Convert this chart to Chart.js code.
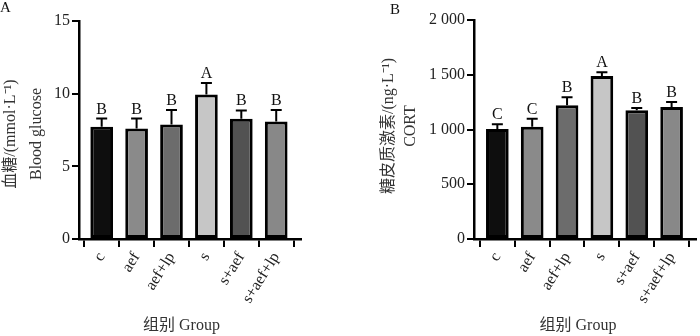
<!DOCTYPE html>
<html>
<head>
<meta charset="utf-8">
<script src="https://cdn.jsdelivr.net/npm/chart.js@4.4.0/dist/chart.umd.min.js"></script>
<style>
  html, body { margin: 0; padding: 0; background: #fff; }
  .wrap { position: absolute; top: 0; width: 350px; height: 336px; }
  #wa { left: 0; }
  #wb { left: 350px; }
</style>
</head>
<body>
<div class="wrap" id="wa"><canvas id="ca" width="350" height="336"></canvas></div>
<div class="wrap" id="wb"><canvas id="cb" width="350" height="336"></canvas></div>
<script>
// ---- data ----
const groups = ['c', 'aef', 'aef+lp', 's', 's+aef', 's+aef+lp'];

const glucoseMean = [7.72, 7.61, 7.88, 9.94, 8.27, 8.09];
const glucoseErr  = [0.57, 0.68, 0.99, 0.80, 0.58, 0.78];
const glucoseSig  = ['B', 'B', 'B', 'A', 'B', 'B'];
const glucoseTicks = ['0', '5', '10', '15'];

const cortMean = [1005, 1026, 1221, 1489, 1175, 1205];
const cortErr  = [42, 73, 73, 33, 21, 46];
const cortSig  = ['C', 'C', 'B', 'A', 'B', 'B'];
const cortTicks = ['0', '500', '1 000', '1 500', '2 000'];

// ---- style ----
const barColors = ['#0e0e0e', '#8a8a8a', '#6c6c6c', '#c6c6c6', '#525252', '#888888'];
const SERIF = '"Liberation Serif", "Noto Sans CJK SC", serif';

const overlay = {
  id: 'overlay',
  afterDatasetsDraw(chart, args, o) {
    const { ctx } = chart;
    const y = chart.scales.y;
    const meta = chart.getDatasetMeta(0);
    ctx.save();
    ctx.strokeStyle = '#000';
    ctx.lineWidth = 2;
    o.means.forEach((m, i) => {
      const cx = meta.data[i].x;
      const top = y.getPixelForValue(m);
      const et = y.getPixelForValue(m + o.errs[i]);
      ctx.beginPath();
      ctx.moveTo(cx, top);
      ctx.lineTo(cx, et);
      ctx.moveTo(cx - 5.5, et);
      ctx.lineTo(cx + 5.5, et);
      ctx.stroke();
      ctx.font = '16px ' + SERIF;
      ctx.fillStyle = '#111';
      ctx.textAlign = 'center';
      ctx.textBaseline = 'alphabetic';
      ctx.fillText(o.sig[i], cx, et - 5);
    });
    // panel letter
    ctx.font = '15px ' + SERIF;
    ctx.fillStyle = '#111';
    ctx.textAlign = 'left';
    ctx.textBaseline = 'top';
    ctx.fillText(o.panel, o.panelX, o.panelY);
    // x title
    ctx.font = '16px ' + SERIF;
    ctx.fillStyle = '#333';
    ctx.textAlign = 'center';
    ctx.textBaseline = 'middle';
    ctx.fillText(o.xTitle, o.xTitleX, 326);
    // y title (two lines, rotated)
    o.yTitle.forEach((t, k) => {
      ctx.save();
      ctx.translate(o.yTitleX[k], o.yTitleY);
      ctx.rotate(-Math.PI / 2);
      ctx.textAlign = 'center';
      ctx.textBaseline = 'middle';
      ctx.fillText(t, 0, 0);
      ctx.restore();
    });
    ctx.restore();
  }
};

function makeChart(id, means, errs, sig, tickLabels, yMax, yStep, geo) {
  return new Chart(document.getElementById(id), {
    type: 'bar',
    data: {
      datasets: [{
        data: means.map((v, i) => ({ x: i, y: v })),
        backgroundColor: barColors,
        borderColor: '#000',
        borderWidth: 3,
        borderSkipped: false,
        categoryPercentage: 1,
        barPercentage: 0.65
      }]
    },
    options: {
      responsive: false,
      animation: false,
      devicePixelRatio: 1,
      layout: { padding: { top: geo.top, right: geo.right, left: 0, bottom: 0 } },
      plugins: {
        legend: { display: false },
        tooltip: { enabled: false },
        overlay: {
          means: means, errs: errs, sig: sig,
          panel: geo.panel, panelX: geo.panelX, panelY: geo.panelY,
          xTitle: '组别 Group', xTitleX: geo.xTitleX,
          yTitle: geo.yTitle, yTitleX: geo.yTitleX, yTitleY: geo.yTitleY
        }
      },
      scales: {
        x: {
          type: 'linear',
          min: geo.xMin, max: geo.xMax,
          offset: false,
          afterBuildTicks: s => { s.ticks = groups.map((g, i) => ({ value: i })); },
          afterFit: s => { s.height = 336 - 239; },
          grid: { display: true, drawOnChartArea: false, drawTicks: true, tickLength: 8, color: '#000', lineWidth: 2 },
          border: { display: true, color: '#000', width: 2.5 },
          ticks: {
            autoSkip: false, minRotation: 58, maxRotation: 58, padding: 2,
            color: '#222', font: { family: SERIF, size: 16 },
            callback: v => groups[v]
          }
        },
        y: {
          min: 0, max: yMax,
          afterFit: s => { s.width = geo.left; },
          grid: { display: true, drawOnChartArea: false, drawTicks: true, tickLength: 7, color: '#000', lineWidth: 2 },
          border: { display: true, color: '#000', width: 2.5 },
          ticks: {
            stepSize: yStep, padding: 2,
            color: '#222', font: { family: SERIF, size: 16 },
            callback: (v, i) => tickLabels[i]
          }
        }
      }
    },
    plugins: [overlay]
  });
}

makeChart('ca', glucoseMean, glucoseErr, glucoseSig, glucoseTicks, 15, 5, {
  left: 79, top: 21, right: 49, xMin: -0.65, xMax: 5.71,
  panel: 'A', panelX: 0, panelY: 1,
  xTitleX: 181.5,
  yTitle: ['血糖/(mmol·L⁻¹)', 'Blood glucose'], yTitleX: [11, 37], yTitleY: 134
});
makeChart('cb', cortMean, cortErr, cortSig, cortTicks, 2000, 500, {
  left: 124, top: 20, right: 4, xMin: -0.67, xMax: 5.70,
  panel: 'B', panelX: 40, panelY: 3,
  xTitleX: 228,
  yTitle: ['糖皮质激素/(ng·L⁻¹)', 'CORT'], yTitleX: [39, 60.5], yTitleY: 126
});
</script>
</body>
</html>
